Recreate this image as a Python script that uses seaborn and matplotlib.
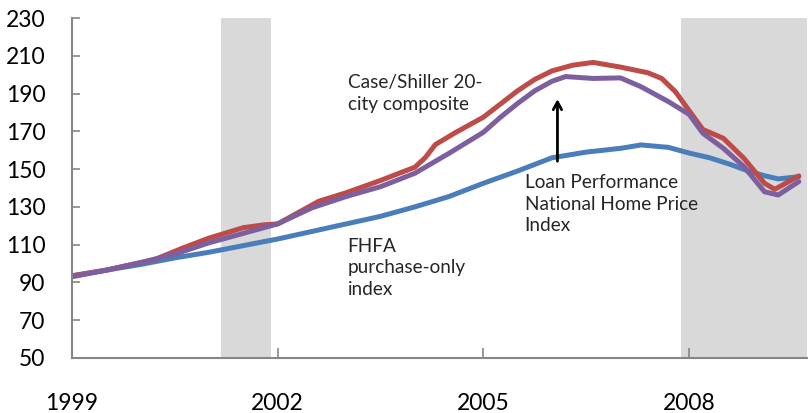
import numpy as np
import pandas as pd
import seaborn as sns
import matplotlib
matplotlib.use("Agg")
import matplotlib.pyplot as plt

# time in decimal years
fhfa_t = [1999.0, 1999.5, 2000.0, 2000.5, 2001.0, 2001.5, 2002.0, 2002.5, 2003.0,
          2003.5, 2004.0, 2004.5, 2005.0, 2005.5, 2006.0, 2006.5, 2007.0, 2007.3,
          2007.7, 2008.0, 2008.3, 2008.6, 2008.9, 2009.1, 2009.3, 2009.6]
fhfa_v = [93.5, 96.5, 99.5, 103.0, 106.0, 109.5, 113.0, 117.0, 121.0,
          125.0, 130.0, 135.5, 142.5, 149.0, 156.0, 159.0, 161.0, 162.8,
          161.5, 158.5, 156.0, 152.5, 148.5, 146.5, 144.8, 146.0]

cs_t = [1999.0, 1999.5, 2000.0, 2000.2, 2000.6, 2001.0, 2001.5, 2001.8, 2002.0,
        2002.3, 2002.6, 2003.0, 2003.5, 2004.0, 2004.15, 2004.3, 2004.6, 2005.0,
        2005.25, 2005.5, 2005.75, 2006.0, 2006.3, 2006.6, 2007.0, 2007.4, 2007.6,
        2007.8, 2008.0, 2008.2, 2008.5, 2008.8, 2009.1, 2009.25, 2009.6]
cs_v = [93.5, 96.5, 100.5, 102.0, 108.0, 113.5, 119.0, 120.5, 121.0,
        127.0, 133.0, 137.5, 144.0, 151.0, 156.0, 163.0, 169.5, 177.5,
        184.5, 191.5, 197.5, 202.0, 205.0, 206.5, 204.0, 201.0, 198.0,
        191.0, 181.0, 171.0, 166.3, 155.7, 142.5, 139.3, 146.4]

lp_t = [1999.0, 1999.5, 2000.0, 2000.5, 2001.0, 2001.5, 2002.0, 2002.5, 2003.0,
        2003.5, 2004.0, 2004.5, 2005.0, 2005.25, 2005.5, 2005.75, 2006.0, 2006.2,
        2006.6, 2007.0, 2007.3, 2007.7, 2008.0, 2008.2, 2008.5, 2008.8, 2009.1,
        2009.3, 2009.6]
lp_v = [93.0, 96.5, 100.5, 105.0, 111.0, 116.0, 121.0, 129.5, 135.5,
        140.7, 147.8, 158.4, 169.5, 177.5, 184.8, 191.5, 196.5, 199.0,
        198.0, 198.3, 193.6, 185.7, 179.0, 169.0, 161.0, 151.3, 138.0,
        136.3, 143.4]

recession_starts = [2001.17, 2007.88]
recession_ends = [2001.9, 2009.72]

df = pd.concat([
    pd.DataFrame({"t": fhfa_t, "v": fhfa_v, "s": "FHFA"}),
    pd.DataFrame({"t": cs_t, "v": cs_v, "s": "CS"}),
    pd.DataFrame({"t": lp_t, "v": lp_v, "s": "LP"}),
])
palette = {"FHFA": "#4a7ebb", "CS": "#be4b48", "LP": "#7d5fa0"}

sns.set_style("white")
plt.rcParams["font.family"] = ["Lato", "DejaVu Sans"]

fig = plt.figure(figsize=(8.08, 4.13), dpi=100)
ax = fig.add_axes([0.0891, 0.1332, 0.9097, 0.8232])

for s0, s1 in zip(recession_starts, recession_ends):
    ax.axvspan(s0, s1, color="#d9d9d9", lw=0, zorder=0)

sns.lineplot(data=df, x="t", y="v", hue="s", hue_order=["FHFA", "CS", "LP"],
             palette=palette, linewidth=3.6, legend=False, ax=ax, estimator=None,
             sort=False)

ax.set_xlim(1999, 2009.72)
ax.set_ylim(50, 230)
ax.set_yticks(range(50, 231, 20))
ax.set_xticks([1999, 2002, 2005, 2008])
ax.set_xlabel("")
ax.set_ylabel("")

for side in ["top", "right"]:
    ax.spines[side].set_visible(False)
for side in ["left", "bottom"]:
    ax.spines[side].set_color("#868686")
    ax.spines[side].set_linewidth(1.5)
ax.tick_params(axis="y", direction="in", length=6, width=1.2, color="#868686",
               labelsize=16.5, pad=19, left=True, labelcolor="black")
ax.tick_params(axis="x", direction="in", length=7, width=1.2, color="#868686",
               labelsize=16.5, pad=25, bottom=True, labelcolor="black")

ax.text(2003.02, 190.0, "Case/Shiller 20-\ncity composite", fontsize=13.7,
        va="center", ha="left", linespacing=1.32)
ax.text(2003.02, 97.7, "FHFA\npurchase-only\nindex", fontsize=13.7,
        va="center", ha="left", linespacing=1.32)
ax.text(2005.6, 131.5, "Loan Performance\nNational Home Price\nIndex", fontsize=13.7,
        va="center", ha="left", linespacing=1.32)
ax.annotate("", xy=(2006.08, 188.5), xytext=(2006.08, 152.7),
            arrowprops=dict(arrowstyle="->,head_length=0.55,head_width=0.3",
                            lw=2, color="black"))

fig.savefig("out.png", dpi=100)
